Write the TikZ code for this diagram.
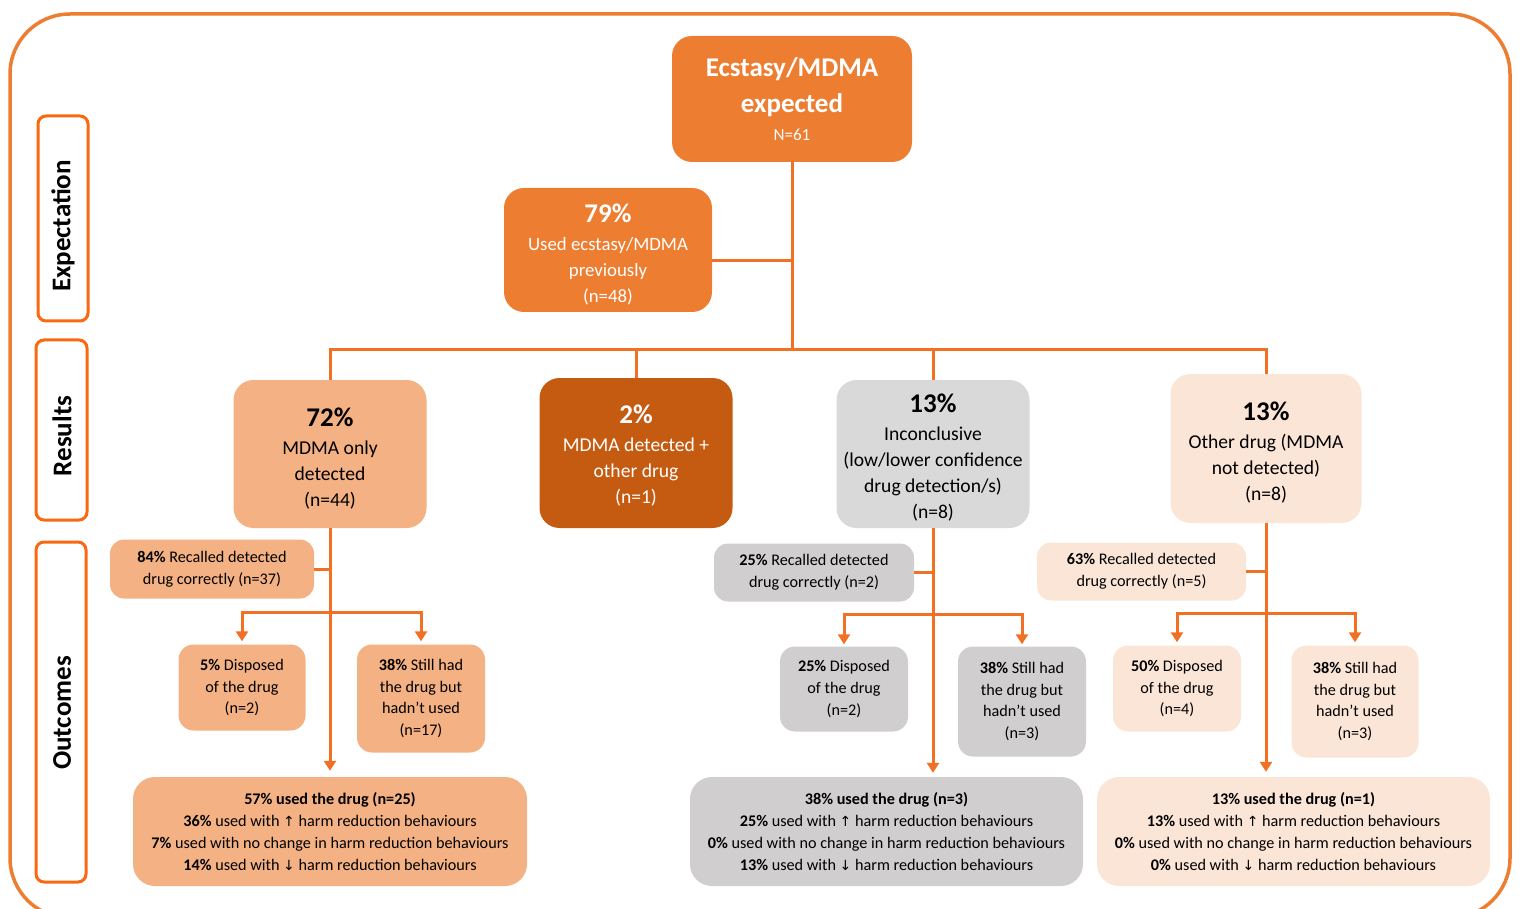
\documentclass[tikz,border=0pt]{standalone}
\usepackage{fontspec}
\setmainfont{Carlito}
\newfontfamily\arrowfont{DejaVu Sans}
\usetikzlibrary{arrows.meta}
\definecolor{frameor}{HTML}{ED7D31}
\definecolor{mainor}{HTML}{ED7D31}
\definecolor{peach}{HTML}{F4B183}
\definecolor{darkor}{HTML}{C55A11}
\definecolor{lgray}{HTML}{D9D9D9}
\definecolor{mgray}{HTML}{D0CECE}
\definecolor{lpeach}{HTML}{FBE5D6}
\definecolor{connor}{RGB}{242,112,36}
\definecolor{sideor}{RGB}{250,104,16}
\newcommand{\upa}{{\arrowfont\fontsize{14}{14}\selectfont ↑}}
\newcommand{\dna}{{\arrowfont\fontsize{14}{14}\selectfont ↓}}
\newcommand{\fsz}[2]{\fontsize{#1}{#2}\selectfont}
\newcommand{\pct}[2]{\rule{0pt}{#1}{\fsz{27}{30}\bfseries #2}}
\tikzset{
  boxwh/.style 2 args={minimum width=#1, minimum height=#2},
  smallbox/.style={rounded corners=15pt, align=center, inner sep=0pt},
  midtext/.style={font=\fsz{19.6}{26}},
  smalltext/.style={font=\fsz{16.2}{21.8}},
  sidebox/.style={draw=sideor, line width=3pt, fill=white, rounded corners=8pt, inner sep=0pt},
  sidetext/.style={rotate=90, font=\fsz{27}{30}\bfseries},
  conn/.style={draw=connor, line width=3pt},
  arr/.style={conn, -{Triangle[width=12pt,length=10pt]}},
}
\begin{document}
\begin{tikzpicture}[x=1pt,y=-1pt]
\useasboundingbox (0,0) rectangle (1521,909);
\begin{scope}
\clip (0,0) rectangle (1521,909);
\draw[frameor, line width=3.5pt, rounded corners=60pt] (10,14) rectangle (1510,918);
\end{scope}

% side labels
\node[sidebox, boxwh={50pt}{205pt}] (exp) at (63,218.5) {};
\node[sidetext] (expt) at (63,226) {Expectation};
\node[sidebox, boxwh={51pt}{180pt}] (res) at (61.5,430) {};
\node[sidetext] (rest) at (62,436) {Results};
\node[sidebox, boxwh={50pt}{340pt}] (out) at (61,712) {};
\node[sidetext] (outt) at (62,713) {Outcomes};

% top
\node[smallbox, rounded corners=20pt, fill=mainor, text=white, boxwh={240pt}{126pt}, font=\fsz{27}{36}\bfseries] (top) at (792,99)
  {Ecstasy/MDMA\\ expected\\[-8pt] {\fsz{17}{20}\mdseries N=61}};
\node[smallbox, rounded corners=20pt, fill=mainor, text=white, boxwh={208pt}{124pt}, font=\fsz{18.8}{26}] (p79) at (608,250)
  {\pct{27.5pt}{79\%}\\[2pt] Used ecstasy/MDMA\\ previously\\ (n=48)};

% results
\node[smallbox, rounded corners=20pt, fill=peach, boxwh={193pt}{148pt}, midtext] (n72) at (330,454)
  {\pct{28.5pt}{72\%}\\[2pt] MDMA only\\ detected\\ (n=44)};
\node[smallbox, rounded corners=20pt, fill=darkor, text=white, boxwh={193pt}{150pt}, midtext] (n2) at (636,453)
  {\pct{24.5pt}{2\%}\\[2pt] MDMA detected +\\ other drug\\ (n=1)};
\node[smallbox, rounded corners=20pt, fill=lgray, boxwh={193pt}{148pt}, midtext] (n13g) at (933,454)
  {\pct{26.5pt}{13\%}\\[2pt] Inconclusive\\ (low/lower confidence\\ drug detection/s)\\ (n=8)};
\node[smallbox, rounded corners=20pt, fill=lpeach, boxwh={191pt}{149pt}, midtext] (n13p) at (1266,448.5)
  {\pct{27.5pt}{13\%}\\[2pt] Other drug (MDMA\\ not detected)\\ (n=8)};

% recalled
\node[smallbox, rounded corners=14pt, fill=peach, boxwh={204pt}{59pt}, smalltext] (r84) at (212,569)
  {\textbf{84\%} Recalled detected\\ drug correctly (n=37)};
\node[smallbox, rounded corners=14pt, fill=mgray, boxwh={200pt}{58pt}, smalltext] (r25) at (814,572.5)
  {\textbf{25\%} Recalled detected\\ drug correctly (n=2)};
\node[smallbox, rounded corners=14pt, fill=lpeach, boxwh={209pt}{58pt}, smalltext] (r63) at (1141.5,571.5)
  {\textbf{63\%} Recalled detected\\ drug correctly (n=5)};

% outcomes small
\node[smallbox, fill=peach, boxwh={127pt}{86pt}, smalltext] (d5) at (242,687.5)
  {\textbf{5\%} Disposed\\ of the drug\\ (n=2)};
\node[smallbox, fill=peach, boxwh={128pt}{108pt}, smalltext] (s38a) at (421,698.5)
  {\textbf{38\%} Still had\\ the drug but\\ hadn’t used\\ (n=17)};
\node[smallbox, fill=mgray, boxwh={128pt}{85pt}, smalltext] (d25) at (844,689)
  {\textbf{25\%} Disposed\\ of the drug\\ (n=2)};
\node[smallbox, fill=mgray, boxwh={128pt}{110pt}, smalltext] (s38b) at (1022,701.5)
  {\textbf{38\%} Still had\\ the drug but\\ hadn’t used\\ (n=3)};
\node[smallbox, fill=lpeach, boxwh={128pt}{86pt}, smalltext] (d50) at (1177,688.5)
  {\textbf{50\%} Disposed\\ of the drug\\ (n=4)};
\node[smallbox, fill=lpeach, boxwh={127pt}{112pt}, smalltext] (s38c) at (1355,701.5)
  {\textbf{38\%} Still had\\ the drug but\\ hadn’t used\\ (n=3)};

% bottom
\node[smallbox, rounded corners=22pt, fill=peach, boxwh={394pt}{109pt}, smalltext] (bl) at (330,831.5)
  {\textbf{57\% used the drug (n=25)}\\ \textbf{36\%} used with \upa{} harm reduction behaviours\\ \textbf{7\%} used with no change in harm reduction behaviours\\ \textbf{14\%} used with \dna{} harm reduction behaviours};
\node[smallbox, rounded corners=22pt, fill=mgray, boxwh={393pt}{109pt}, smalltext] (bm) at (886.5,831.5)
  {\textbf{38\% used the drug (n=3)}\\ \textbf{25\%} used with \upa{} harm reduction behaviours\\ \textbf{0\%} used with no change in harm reduction behaviours\\ \textbf{13\%} used with \dna{} harm reduction behaviours};
\node[smallbox, rounded corners=22pt, fill=lpeach, boxwh={393pt}{109pt}, smalltext] (br) at (1293.5,831.5)
  {\textbf{13\% used the drug (n=1)}\\ \textbf{13\%} used with \upa{} harm reduction behaviours\\ \textbf{0\%} used with no change in harm reduction behaviours\\ \textbf{0\%} used with \dna{} harm reduction behaviours};

% connectors
\coordinate (j1) at (792,350);
\coordinate (h79) at (792,261);
\draw[conn] (top.south) -- (j1);
\draw[conn] (h79) -- (h79 -| p79.east);
\draw[conn] (n72.north) |- (j1);
\draw[conn] (n13p.north) |- (j1);
\draw[conn] (n2.north) -- (n2.north |- j1);
\draw[conn] (n13g.north) -- (n13g.north |- j1);

\coordinate (f1) at (330,612);
\coordinate (f2) at (933,614);
\coordinate (f3) at (1266,613);
\draw[arr, shorten >=6pt] (n72.south) -- (n72.south |- bl.north);
\draw[arr, shorten >=4pt] (n13g.south) -- (n13g.south |- bm.north);
\draw[arr, shorten >=5pt] (n13p.south) -- (n13p.south |- br.north);
\draw[conn] (r84.east) -- (r84.east -| n72.south);
\draw[conn] (r25.east) -- (r25.east -| n13g.south);
\draw[conn] (r63.east) -- (r63.east -| n13p.south);
\draw[arr, shorten >=3pt] (f1) -| (d5.north);
\draw[arr, shorten >=3pt] (f1) -| (s38a.north);
\draw[arr, shorten >=2pt] (f2) -| (d25.north);
\draw[arr, shorten >=2pt] (f2) -| (s38b.north);
\draw[arr, shorten >=3pt] (f3) -| (d50.north);
\draw[arr, shorten >=3pt] (f3) -| (s38c.north);
\end{tikzpicture}
\end{document}
